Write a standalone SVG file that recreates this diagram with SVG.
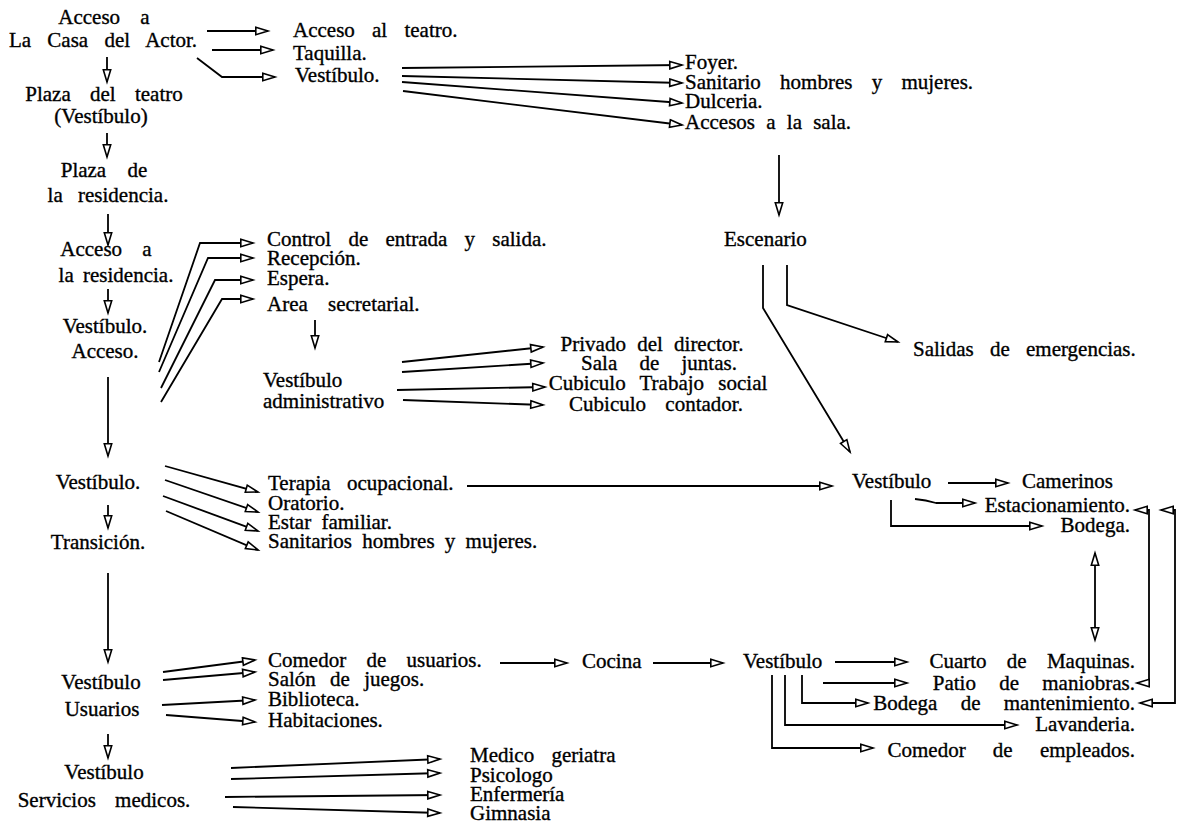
<svg xmlns="http://www.w3.org/2000/svg" width="1177" height="831" viewBox="0 0 1177 831">
<style>
.t{font-family:"Liberation Serif","Times New Roman",serif;font-size:21px;fill:#000;stroke:#000;stroke-width:0.35}
.m{text-anchor:middle}
.e{text-anchor:end}
.c{fill:none;stroke:#000;stroke-width:1.8;marker-end:url(#ah)}
.b{fill:none;stroke:#000;stroke-width:1.8;marker-start:url(#ah);marker-end:url(#ah)}
</style>
<defs>
<marker id="ah" markerWidth="16" markerHeight="12" refX="13" refY="4.5" orient="auto-start-reverse" markerUnits="userSpaceOnUse" style="overflow:visible">
<path d="M0.8,0.8 L13,4.5 L0.8,8.2 Z" fill="#fff" stroke="#000" stroke-width="1.6"/>
</marker>
</defs>
<rect width="1177" height="831" fill="#fff"/>

<g id="connectors">
<path class="c" d="M107,57 V82"/>
<path class="c" d="M107,133 V157"/>
<path class="c" d="M108,214 V245"/>
<path class="c" d="M108,289 V313"/>
<path class="c" d="M108,377 V456"/>
<path class="c" d="M108,505 V528"/>
<path class="c" d="M108,573 V662"/>
<path class="c" d="M108,734 V758"/>
<path class="c" d="M207,31 H268"/>
<path class="c" d="M212,50 H273"/>
<path class="c" d="M197,58 L222,77 H275"/>
<path class="c" d="M402,68 L682,65"/>
<path class="c" d="M402,76 L682,83"/>
<path class="c" d="M402,82 L682,103"/>
<path class="c" d="M403,91 L682,125"/>
<path class="c" d="M779,155 V215"/>
<path class="c" d="M763,265 V308 L850,452"/>
<path class="c" d="M787,265 V305 L898,342"/>
<path class="c" d="M159,362 L200,243 H253"/>
<path class="c" d="M159,372 L208,258 H253"/>
<path class="c" d="M161,388 L215,280 H253"/>
<path class="c" d="M161,402 L222,299 H253"/>
<path class="c" d="M315,320 V348"/>
<path class="c" d="M402,362 L543,347"/>
<path class="c" d="M402,372 L543,363"/>
<path class="c" d="M397,390 L545,387"/>
<path class="c" d="M403,400 L543,405"/>
<path class="c" d="M165,466 L258,492"/>
<path class="c" d="M165,480 L258,512"/>
<path class="c" d="M163,496 L258,531"/>
<path class="c" d="M166,511 L258,550"/>
<path class="c" d="M467,486 H832"/>
<path class="c" d="M948,483 H1008"/>
<path class="c" d="M915,499 Q926,500 936,503 H975"/>
<path class="c" d="M891,500 V526 H1042"/>
<path class="b" d="M1095,553 V640"/>
<path class="b" d="M1135,510 H1149 V683 H1137"/>
<path class="b" d="M1161,510 H1175 V703 H1140"/>
<path class="c" d="M163,672 L255,660"/>
<path class="c" d="M163,680 L255,672"/>
<path class="c" d="M162,705 L255,700"/>
<path class="c" d="M166,715 L255,722"/>
<path class="c" d="M500,663 H567"/>
<path class="c" d="M653,663 H723"/>
<path class="c" d="M835,662 H907"/>
<path class="c" d="M823,683 H907"/>
<path class="c" d="M802,675 V703 H868"/>
<path class="c" d="M785,675 V725 H1017"/>
<path class="c" d="M772,675 V748 H873"/>
<path class="c" d="M231,768 L440,759"/>
<path class="c" d="M231,779 L440,773"/>
<path class="c" d="M225,797 L440,795"/>
<path class="c" d="M233,807 L440,813"/>
</g>

<g id="n-acceso-casa"><text class="t m" x="104" y="24" word-spacing="15">Acceso a</text><text class="t m" x="103" y="47" word-spacing="11">La Casa del Actor.</text></g>
<g id="n-plaza-teatro"><text class="t m" x="104" y="101" word-spacing="14">Plaza del teatro</text><text class="t m" x="101" y="123">(Vestíbulo)</text></g>
<g id="n-plaza-residencia"><text class="t m" x="104" y="177" word-spacing="16">Plaza de</text><text class="t m" x="108" y="202" word-spacing="10">la residencia.</text></g>
<g id="n-acceso-residencia"><text class="t m" x="106" y="256" word-spacing="15">Acceso a</text><text class="t m" x="116" y="282" word-spacing="4">la residencia.</text></g>
<g id="n-vest-acceso"><text class="t m" x="105" y="333">Vestíbulo.</text><text class="t m" x="105" y="358">Acceso.</text></g>
<g id="n-vest-transicion"><text class="t m" x="98" y="489">Vestíbulo.</text><text class="t m" x="98" y="549">Transición.</text></g>
<g id="n-vest-usuarios"><text class="t m" x="101" y="689">Vestíbulo</text><text class="t m" x="102" y="716">Usuarios</text></g>
<g id="n-vest-servicios"><text class="t m" x="104" y="779">Vestíbulo</text><text class="t m" x="104" y="807" word-spacing="14">Servicios medicos.</text></g>

<g id="n-teatro-list"><text class="t" x="293" y="37" word-spacing="12">Acceso al teatro.</text><text class="t" x="293" y="60">Taquilla.</text><text class="t" x="295" y="82">Vestíbulo.</text></g>
<g id="n-foyer-list"><text class="t" x="685" y="69">Foyer.</text><text class="t" x="685" y="89" word-spacing="14">Sanitario hombres y mujeres.</text><text class="t" x="685" y="108">Dulceria.</text><text class="t" x="685" y="129" word-spacing="6">Accesos a la sala.</text></g>
<g id="n-escenario"><text class="t" x="724" y="246">Escenario</text></g>
<g id="n-salidas"><text class="t" x="913" y="356" word-spacing="11">Salidas de emergencias.</text></g>

<g id="n-control-list"><text class="t" x="267" y="246" word-spacing="12">Control de entrada y salida.</text><text class="t" x="267" y="265">Recepción.</text><text class="t" x="267" y="285">Espera.</text><text class="t" x="267" y="311" word-spacing="15">Area secretarial.</text></g>
<g id="n-vest-admin"><text class="t" x="263" y="387">Vestíbulo</text><text class="t" x="263" y="408">administrativo</text></g>
<g id="n-admin-list"><text class="t m" x="652" y="351" word-spacing="6">Privado del director.</text><text class="t m" x="659" y="370" word-spacing="17">Sala de juntas.</text><text class="t m" x="658" y="390" word-spacing="9">Cubiculo Trabajo social</text><text class="t m" x="656" y="411" word-spacing="14">Cubiculo contador.</text></g>

<g id="n-terapia-list"><text class="t" x="268" y="490" word-spacing="11">Terapia ocupacional.</text><text class="t" x="268" y="510">Oratorio.</text><text class="t" x="268" y="529" word-spacing="5">Estar familiar.</text><text class="t" x="268" y="548" word-spacing="5">Sanitarios hombres y mujeres.</text></g>

<g id="n-vest-teatro"><text class="t" x="852" y="488">Vestíbulo</text></g>
<g id="n-camerinos"><text class="t" x="1022" y="488">Camerinos</text></g>
<g id="n-estacionamiento"><text class="t e" x="1130" y="512">Estacionamiento.</text></g>
<g id="n-bodega"><text class="t e" x="1130" y="532">Bodega.</text></g>

<g id="n-usuarios-list"><text class="t" x="268" y="667" word-spacing="15">Comedor de usuarios.</text><text class="t" x="268" y="686" word-spacing="9">Salón de juegos.</text><text class="t" x="268" y="706">Biblioteca.</text><text class="t" x="268" y="727">Habitaciones.</text></g>
<g id="n-cocina"><text class="t" x="582" y="668">Cocina</text></g>
<g id="n-vest-servicio"><text class="t" x="743" y="668">Vestíbulo</text></g>
<g id="n-servicio-list"><text class="t e" x="1135" y="668" word-spacing="15">Cuarto de Maquinas.</text><text class="t e" x="1135" y="690" word-spacing="18">Patio de maniobras.</text><text class="t e" x="1135" y="710" word-spacing="18">Bodega de mantenimiento.</text><text class="t e" x="1135" y="731">Lavanderia.</text><text class="t e" x="1135" y="757" word-spacing="22">Comedor de empleados.</text></g>

<g id="n-medicos-list"><text class="t" x="470" y="762" word-spacing="12">Medico geriatra</text><text class="t" x="470" y="782">Psicologo</text><text class="t" x="470" y="801">Enfermería</text><text class="t" x="470" y="820">Gimnasia</text></g>
</svg>
